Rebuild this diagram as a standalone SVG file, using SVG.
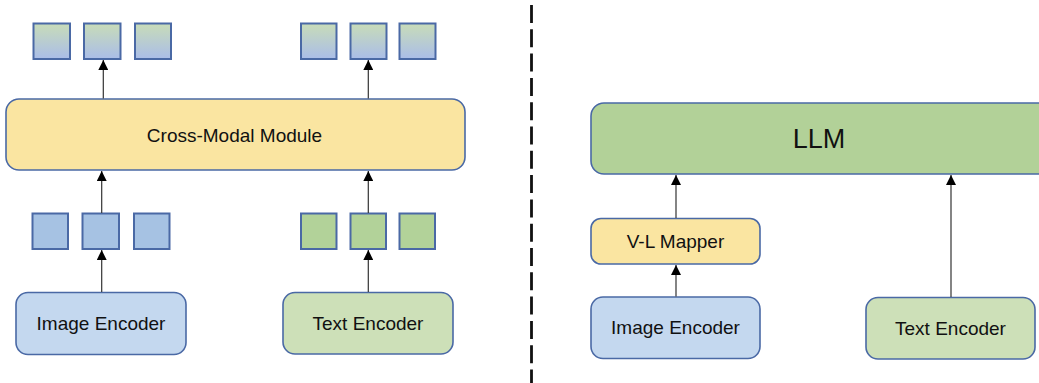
<svg xmlns="http://www.w3.org/2000/svg" width="1039" height="383" viewBox="0 0 1039 383">
  <defs>
    <linearGradient id="tok" x1="0" y1="0" x2="0" y2="1">
      <stop offset="0" stop-color="#c8dcb8"/>
      <stop offset="1" stop-color="#aabde8"/>
    </linearGradient>
    <marker id="arr" viewBox="0 0 10 10" refX="10" refY="5" markerWidth="10" markerHeight="10" markerUnits="userSpaceOnUse" orient="auto">
      <path d="M0,0 L10,5 L0,10 Z" fill="#000"/>
    </marker>
  </defs>
  <style>
    .box { stroke: #4a69a5; stroke-width: 1.6; }
    .sq { stroke: #4a69a5; stroke-width: 2; }
    .yellow { fill: #fae5a1; }
    .blue { fill: #c4d8ef; }
    .green { fill: #cde0b8; }
    .llm { fill: #b2d198; }
    .sqblue { fill: #a6c2e3; }
    .sqgreen { fill: #b2d299; }
    .sqgrad { fill: url(#tok); }
    .lbl { font-family: "Liberation Sans", Arial, sans-serif; font-size: 19px; fill: #111; text-anchor: middle; }
    .big { font-size: 27px; }
    .conn { stroke: #333; stroke-width: 1.2; fill: none; marker-end: url(#arr); }
  </style>
  <rect width="1039" height="383" fill="#ffffff"/>

  <!-- Left panel -->
  <g id="out-tokens-left">
    <rect class="sq sqgrad" x="33.5" y="23.5" width="36.5" height="35.5"/>
    <rect class="sq sqgrad" x="84" y="23.5" width="36.5" height="35.5"/>
    <rect class="sq sqgrad" x="135" y="23.5" width="36" height="35.5"/>
  </g>
  <g id="out-tokens-right">
    <rect class="sq sqgrad" x="301" y="23.5" width="35.5" height="35.5"/>
    <rect class="sq sqgrad" x="350.5" y="23.5" width="36" height="35.5"/>
    <rect class="sq sqgrad" x="399.5" y="23.5" width="36" height="35.5"/>
  </g>
  <g id="cross-modal">
    <rect class="box yellow" x="6" y="99" width="459" height="71" rx="13"/>
    <text class="lbl" x="234.5" y="141.5">Cross-Modal Module</text>
  </g>
  <g id="img-tokens">
    <rect class="sq sqblue" x="32.5" y="213.5" width="35.5" height="35.5"/>
    <rect class="sq sqblue" x="82.5" y="213.5" width="36.5" height="35.5"/>
    <rect class="sq sqblue" x="134" y="213.5" width="35.5" height="35.5"/>
  </g>
  <g id="txt-tokens">
    <rect class="sq sqgreen" x="301" y="213.5" width="35.5" height="35.5"/>
    <rect class="sq sqgreen" x="350.5" y="213.5" width="35.5" height="35.5"/>
    <rect class="sq sqgreen" x="399.5" y="213.5" width="35.5" height="35.5"/>
  </g>
  <g id="image-encoder-left">
    <rect class="box blue" x="16" y="292.5" width="170" height="62" rx="12"/>
    <text class="lbl" x="101" y="330">Image Encoder</text>
  </g>
  <g id="text-encoder-left">
    <rect class="box green" x="283" y="292.5" width="170" height="61.5" rx="12"/>
    <text class="lbl" x="368" y="330">Text Encoder</text>
  </g>

  <!-- Divider -->
  <line x1="531.5" y1="5" x2="531.5" y2="383" stroke="#111" stroke-width="2.8" stroke-dasharray="18 6.3"/>

  <!-- Right panel -->
  <g id="llm">
    <rect class="box llm" x="591" y="103" width="470" height="71" rx="13"/>
    <text class="lbl big" x="819" y="148.3">LLM</text>
  </g>
  <g id="vl-mapper">
    <rect class="box yellow" x="591" y="218.5" width="169" height="45.5" rx="10"/>
    <text class="lbl" x="675.5" y="247.7">V-L Mapper</text>
  </g>
  <g id="image-encoder-right">
    <rect class="box blue" x="591" y="297" width="169" height="61.5" rx="12"/>
    <text class="lbl" x="675.5" y="333.5">Image Encoder</text>
  </g>
  <g id="text-encoder-right">
    <rect class="box green" x="866" y="297.5" width="169" height="61.5" rx="12"/>
    <text class="lbl" x="950.5" y="334.5">Text Encoder</text>
  </g>

  <g id="connectors">
    <line class="conn" x1="103.3" y1="98.5" x2="103.3" y2="60"/>
    <line class="conn" x1="368.3" y1="98.5" x2="368.3" y2="60"/>
    <line class="conn" x1="101.7" y1="213" x2="101.7" y2="171"/>
    <line class="conn" x1="368.3" y1="213" x2="368.3" y2="171"/>
    <line class="conn" x1="101.7" y1="292" x2="101.7" y2="250"/>
    <line class="conn" x1="368.3" y1="292" x2="368.3" y2="250"/>
    <line class="conn" x1="676" y1="218" x2="676" y2="175"/>
    <line class="conn" x1="676" y1="296.5" x2="676" y2="265"/>
    <line class="conn" x1="951" y1="297" x2="951" y2="175"/>
  </g>
</svg>
